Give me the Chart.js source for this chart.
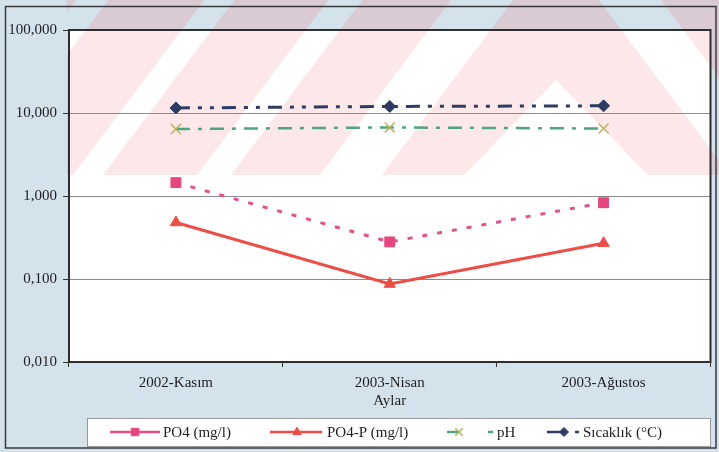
<!DOCTYPE html>
<html>
<head>
<meta charset="utf-8">
<script src="https://cdn.jsdelivr.net/npm/chart.js@4/dist/chart.umd.min.js"></script>
<style>
  html, body { margin: 0; padding: 0; background: #d4e2ec; }
  #wrap { width: 719px; height: 452px; }
</style>
</head>
<body>
<div id="wrap"><canvas id="chart" width="719" height="452"></canvas></div>
<script>
// Monthly measurements per sampling period
const months = ['2002-Kasım', '2003-Nisan', '2003-Ağustos'];
const po4 = [1.45, 0.28, 0.83];
const po4p = [0.48, 0.087, 0.27];
const ph = [6.4, 6.7, 6.5];
const sicaklik = [11.5, 12.0, 12.2];
const seriesNames = ['PO4 (mg/l)', 'PO4-P (mg/l)', 'pH', 'Sıcaklık (°C)'];

// Log-axis ticks (decades) and their labels
const yTickValues = [0.01, 0.1, 1, 10, 100];
const yTickLabels = ['0,010', '0,100', '1,000', '10,000', '100,000'];
const xTitle = 'Aylar';

const SERIF = '"Liberation Serif", "DejaVu Serif", serif';

// Striped pink band across the top of the page
function makeBand(W, H) {
  const off = document.createElement('canvas');
  off.width = W; off.height = H;
  const o = off.getContext('2d');
  o.fillStyle = 'rgb(236,120,126)';
  o.fillRect(67, 0, W - 67, 175);
  o.globalCompositeOperation = 'destination-out';
  o.fillStyle = '#000';
  const s = 0.75, yb = 175, h = 175, cx = 556;
  const stripe = (x0, w) => {
    o.beginPath();
    o.moveTo(x0, yb); o.lineTo(x0 + w, yb);
    o.lineTo(x0 + w + h * s, 0); o.lineTo(x0 + h * s, 0);
    o.closePath(); o.fill();
  };
  const mirrored = (x0, w) => {
    o.beginPath();
    o.moveTo(2 * cx - x0, yb); o.lineTo(2 * cx - x0 - w, yb);
    o.lineTo(2 * cx - x0 - w - h * s, 0); o.lineTo(2 * cx - x0 - h * s, 0);
    o.closePath(); o.fill();
  };
  stripe(-55, 32); stripe(73, 30); stripe(197, 34); stripe(320, 62);
  mirrored(320, 62);
  o.beginPath();
  o.moveTo(cx, 80); o.lineTo(cx + 92, 175); o.lineTo(cx - 92, 175);
  o.closePath(); o.fill();
  return off;
}

const backdrop = {
  id: 'backdrop',
  beforeDraw(chart) {
    const { ctx, chartArea: a, width: W, height: H } = chart;
    const band = makeBand(W, H);
    ctx.save();
    ctx.fillStyle = '#d4e2ec';
    ctx.fillRect(0, 0, W, H);
    ctx.fillStyle = '#ffffff';
    ctx.fillRect(a.left, a.top, a.right - a.left, a.bottom - a.top);

    // inside the plot: pale tint
    ctx.save();
    ctx.beginPath();
    ctx.rect(a.left, a.top, a.right - a.left, a.bottom - a.top);
    ctx.clip();
    ctx.globalAlpha = 0.17;
    ctx.drawImage(band, 0, 0);
    ctx.restore();

    // around the plot: slightly stronger tint
    ctx.save();
    ctx.beginPath();
    ctx.rect(0, 0, W, H);
    ctx.rect(a.left, a.top, a.right - a.left, a.bottom - a.top);
    ctx.clip('evenodd');
    ctx.globalAlpha = 0.22;
    ctx.drawImage(band, 0, 0);
    ctx.restore();

    // outer frame
    ctx.strokeStyle = '#3a3a3a';
    ctx.lineWidth = 1.5;
    ctx.strokeRect(5.5, 6.5, W - 3 - 5.5, H - 4 - 6.5);
    ctx.restore();
  },
  afterDraw(chart) {
    const { ctx, chartArea: a } = chart;
    ctx.save();
    // plot frame
    ctx.strokeStyle = '#2e2e2e';
    ctx.lineWidth = 2;
    ctx.strokeRect(a.left, a.top, a.right - a.left, a.bottom - a.top);

    // legend box
    ctx.fillStyle = '#ffffff';
    ctx.fillRect(87, 418, 623, 28);
    ctx.strokeStyle = '#9a9a9a';
    ctx.lineWidth = 1;
    ctx.strokeRect(87.5, 418.5, 623, 28);

    const cy = 432;
    const items = [
      { x: 110, len: 50, mx: 25, dash: [], tx: 163 },
      { x: 270, len: 52, mx: 27, dash: [], tx: 327 },
      { x: 447, len: 46, mx: 12, dash: [12, 29, 5, 100], tx: 497 },
      { x: 547, len: 33, mx: 17, dash: [20, 8, 4, 100], tx: 583 }
    ];
    chart.data.datasets.forEach((ds, i) => {
      const it = items[i];
      ctx.save();
      ctx.strokeStyle = ds.borderColor;
      ctx.lineWidth = 2.5;
      ctx.setLineDash(it.dash);
      ctx.beginPath();
      ctx.moveTo(it.x, cy); ctx.lineTo(it.x + it.len, cy);
      ctx.stroke();
      ctx.restore();

      ctx.save();
      ctx.fillStyle = ds.pointBackgroundColor;
      ctx.strokeStyle = ds.pointBorderColor;
      ctx.lineWidth = ds.pointBorderWidth;
      Chart.helpers.drawPoint(ctx, {
        pointStyle: ds.pointStyle,
        radius: ds.pointRadius * 0.75,
        rotation: 0,
        borderWidth: ds.pointBorderWidth
      }, it.x + it.mx, cy);
      ctx.restore();

      ctx.fillStyle = '#1e1e1e';
      ctx.font = '15px ' + SERIF;
      ctx.textBaseline = 'middle';
      ctx.textAlign = 'left';
      ctx.fillText(ds.label, it.tx, cy + 1);
    });
    ctx.restore();
  }
};

const datasets = [
  {
    label: seriesNames[0], data: po4,
    borderColor: '#e6508a', borderWidth: 3, borderDash: [5, 10],
    pointStyle: 'rect', pointRadius: 7,
    pointBackgroundColor: '#e8457f', pointBorderColor: '#e8457f', pointBorderWidth: 1
  },
  {
    label: seriesNames[1], data: po4p,
    borderColor: '#ee4d45', borderWidth: 3,
    pointStyle: 'triangle', pointRadius: 6.5,
    pointBackgroundColor: '#ee4d45', pointBorderColor: '#ee4d45', pointBorderWidth: 1
  },
  {
    label: seriesNames[2], data: ph,
    borderColor: '#4fa57f', borderWidth: 2.5, borderDash: [14, 8, 4, 8],
    pointStyle: 'crossRot', pointRadius: 7,
    pointBackgroundColor: '#b9b55e', pointBorderColor: '#b9b55e', pointBorderWidth: 1.5
  },
  {
    label: seriesNames[3], data: sicaklik,
    borderColor: '#2d3c63', borderWidth: 3, borderDash: [14, 8, 4, 8, 4, 8],
    pointStyle: 'rectRot', pointRadius: 6,
    pointBackgroundColor: '#2d3c63', pointBorderColor: '#2d3c63', pointBorderWidth: 1
  }
];

Chart.defaults.font.family = SERIF;

new Chart(document.getElementById('chart'), {
  type: 'line',
  data: { labels: months, datasets },
  options: {
    responsive: false,
    animation: false,
    devicePixelRatio: 1,
    layout: { padding: { top: 30, right: 7, left: 0, bottom: 0 } },
    plugins: { legend: { display: false }, tooltip: { enabled: false } },
    elements: { line: { tension: 0 } },
    scales: {
      x: {
        type: 'category',
        offset: true,
        border: { display: false },
        grid: { display: true, offset: true, drawOnChartArea: false, drawTicks: true,
                tickLength: 5, color: '#333', tickColor: '#333' },
        ticks: { font: { family: SERIF, size: 15 }, color: '#1e1e1e', padding: 7, maxRotation: 0 },
        title: { display: true, text: xTitle, font: { family: SERIF, size: 15 },
                 color: '#1e1e1e', padding: { top: 0, bottom: 42 } },
        afterFit: (s) => { s.height = 90; }
      },
      y: {
        type: 'logarithmic',
        min: 0.01,
        max: 100,
        border: { display: false },
        grid: { color: '#8c8c8c', lineWidth: 1, tickLength: 6, tickColor: '#333' },
        ticks: {
          font: { family: SERIF, size: 15 }, color: '#1e1e1e', padding: 6,
          callback: (v) => {
            const i = yTickValues.indexOf(v);
            return i >= 0 ? yTickLabels[i] : '';
          }
        },
        afterBuildTicks: (s) => { s.ticks = yTickValues.map(v => ({ value: v })); },
        afterFit: (s) => { s.width = 69; }
      }
    }
  },
  plugins: [backdrop]
});
</script>
</body>
</html>
